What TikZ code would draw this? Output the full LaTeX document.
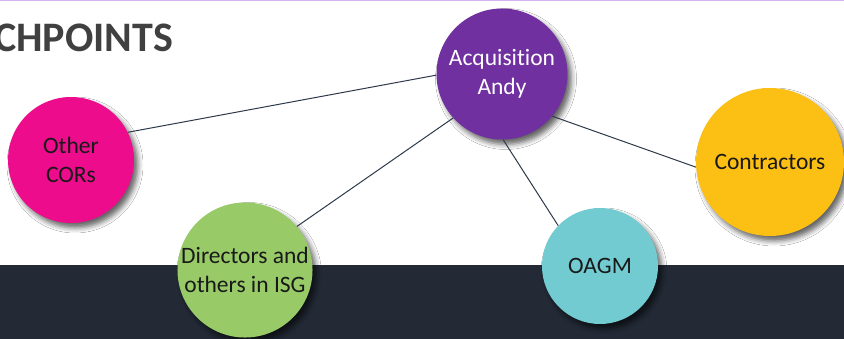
\documentclass[tikz,border=0pt]{standalone}
\usepackage{fontspec}
\setmainfont{Carlito}[Ligatures=NoCommon]
\usetikzlibrary{shadows.blur}

\definecolor{bandcol}{HTML}{232A36}
\definecolor{topline}{HTML}{D7B4F0}
\definecolor{titlecol}{HTML}{404040}
\definecolor{edgecol}{HTML}{2E3A4A}
\definecolor{purplecol}{HTML}{7030A0}
\definecolor{pinkcol}{HTML}{EC0C8C}
\definecolor{greencol}{HTML}{98CB68}
\definecolor{tealcol}{HTML}{71CBD0}
\definecolor{yellowcol}{HTML}{FCBF14}

\tikzset{
  person/.style={circle, inner sep=0pt, align=center, text=black!90,
    font=\fontsize{23.5}{28.5}\selectfont,
    blur shadow={shadow xshift=4pt, shadow yshift=-5pt,
      shadow blur radius=5pt, shadow opacity=60}},
  link/.style={draw=edgecol, line width=1pt}
}

\begin{document}
\begin{tikzpicture}[x=1pt, y=1pt]
    \useasboundingbox (0,0) rectangle (844,-339);

    % band and top line
    \fill[white] (0,0) rectangle (844,-339);
    \fill[bandcol] (0,-265) rectangle (844,-339);
    \fill[topline] (0,0) rectangle (844,-1.5);

    % title
    \node[anchor=base west, inner sep=0pt, text=titlecol,
          font=\fontsize{42}{48}\selectfont\bfseries] (title) at (-6,-52) {CHPOINTS};

    % centre circle
    \node[person, fill=purplecol, text=white, minimum size=131pt] (acq) at (502,-74) {Acquisition\\Andy};

    % circles round it
    \node[person, fill=pinkcol, minimum size=126pt] (cors) at (71,-160) {Other\\CORs};
    \node[person, fill=greencol, minimum size=130pt] (dirs) at (245,-270) {Directors and\\others in ISG};
    \node[person, fill=tealcol, minimum size=116pt] (oagm) at (600,-266) {OAGM};
    \node[person, fill=yellowcol, minimum size=148pt] (contr) at (770,-162) {Contractors};

    % lines
    \draw[link] (cors.26) -- (acq.181);
    \draw[link] (dirs.40) -- (acq.222);
    \draw[link] (oagm.136) -- (acq.271);
    \draw[link] (contr.184) -- (acq.320);
\end{tikzpicture}
\end{document}
